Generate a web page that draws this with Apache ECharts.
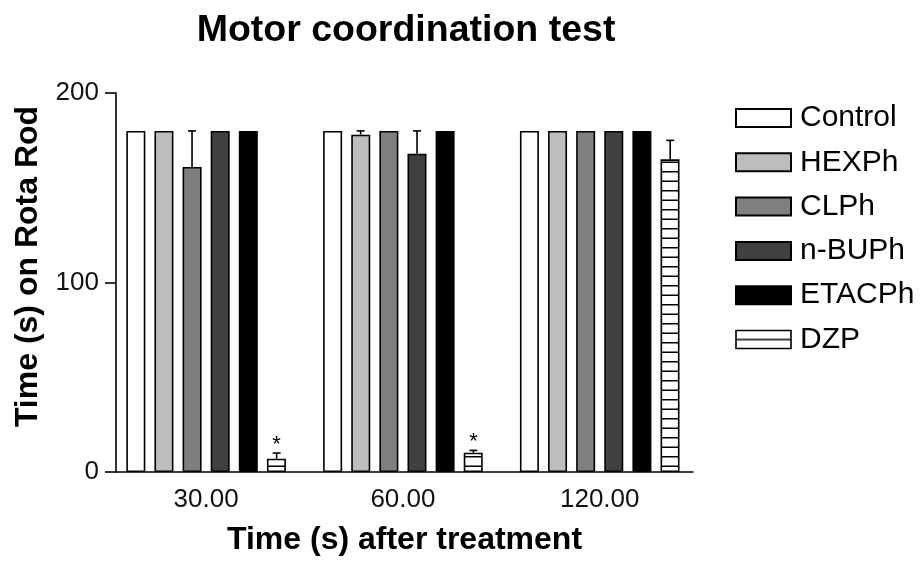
<!DOCTYPE html>
<html>
<head>
<meta charset="utf-8">
<script src="https://cdn.jsdelivr.net/npm/echarts@6/dist/echarts.min.js"></script>
<style>html,body{margin:0;padding:0;background:#fff}#c{width:920px;height:561px}</style>
</head>
<body>
<div id="c"></div>
<script>
// ---- data ----
const categories = ['30.00', '60.00', '120.00'];
const xPos = [0, 1, 2];
const seriesNames = ['Control', 'HEXPh', 'CLPh', 'n-BUPh', 'ETACPh', 'DZP'];
const control = [180, 180, 180];
const controlErr = [0, 0, 0];
const hexph = [180, 178, 180];
const hexphErr = [0, 2, 0];
const clph = [161, 180, 180];
const clphErr = [19, 0, 0];
const nbuph = [180, 168, 180];
const nbuphErr = [0, 12, 0];
const etacph = [180, 180, 180];
const etacphErr = [0, 0, 0];
const dzp = [7, 10.2, 165];
const dzpErr = [3, 1.2, 10];
const dzpStar = [1, 1, 0];
const yTicks = { min: 0, max: 200, interval: 100 };

// ---- style ----
const FONT = 'Liberation Sans';
const fills = ['#ffffff', '#bdbdbd', '#7f7f7f', '#404040', '#000000', null];
const BAR_W = 19;
const PITCH = 28.2;

function stripeCanvas(h, rows) {
  const c = document.createElement('canvas');
  c.width = 8; c.height = h;
  const g = c.getContext('2d');
  g.fillStyle = '#fff'; g.fillRect(0, 0, 8, h);
  g.fillStyle = '#000';
  rows.forEach(r => g.fillRect(0, r, 8, 1.5));
  return c;
}
const barStripe = { image: stripeCanvas(19, [0, 9.5]), repeat: 'repeat' };
const legendStripe = { image: stripeCanvas(20, [8.3]), repeat: 'repeat' };

const values = [control, hexph, clph, nbuph, etacph, dzp];
const errs = [controlErr, hexphErr, clphErr, nbuphErr, etacphErr, dzpErr];
const stars = [null, null, null, null, null, dzpStar];

const series = seriesNames.map((name, k) => ({
  name, type: 'bar', barWidth: BAR_W, barGap: '48%',
  data: values[k].map((v, i) => [xPos[i], v]),
  itemStyle: {
    color: fills[k] || barStripe,
    borderColor: '#000', borderWidth: 1.6
  },
  emphasis: { disabled: true }
}));

const errData = [];
values.forEach((arr, k) => arr.forEach((v, i) => {
  errData.push([xPos[i], v, errs[k][i], k, stars[k] ? stars[k][i] : 0]);
}));

series.push({
  type: 'custom', name: 'err', z: 5, silent: true,
  encode: { x: 0, y: 1 },
  data: errData,
  renderItem(params, api) {
    const x = api.value(0), v = api.value(1), e = api.value(2), k = api.value(3), st = api.value(4);
    const base = api.coord([x, v]);
    const top = api.coord([x, v + e]);
    const cx = base[0] + (k - 2.5) * PITCH;
    const ch = [];
    if (e > 0) {
      ch.push({ type: 'line', shape: { x1: cx, y1: base[1], x2: cx, y2: top[1] }, style: { stroke: '#000', lineWidth: 1.6 } });
      ch.push({ type: 'line', shape: { x1: cx - 4, y1: top[1], x2: cx + 4, y2: top[1] }, style: { stroke: '#000', lineWidth: 1.6 } });
    }
    if (st) {
      ch.push({ type: 'text', style: { x: cx, y: top[1] - 8, text: '*', fill: '#000', font: '22px "Liberation Sans"', align: 'center', verticalAlign: 'middle' } });
    }
    return { type: 'group', children: ch };
  }
});

const legendData = seriesNames.map((name, k) => fills[k]
  ? { name, icon: 'rect' }
  : { name, icon: 'rect', itemStyle: { color: legendStripe, borderColor: '#000', borderWidth: 1.6 } });

const chart = echarts.init(document.getElementById('c'), null, { renderer: 'canvas' });
chart.setOption({
  animation: false,
  backgroundColor: '#fff',
  title: {
    text: 'Motor coordination test', left: 401, top: 7, textAlign: 'center',
    textStyle: { fontFamily: FONT, fontWeight: 'bold', fontSize: 37.5, color: '#000' }
  },
  legend: {
    orient: 'vertical', left: 730, top: 98, itemWidth: 55, itemHeight: 18, itemGap: 14.3,
    data: legendData,
    textStyle: { fontFamily: FONT, fontSize: 30, color: '#000', lineHeight: 30, padding: [0, 0, 0, 4] },
    selectedMode: false
  },
  grid: { left: 116, right: 227, top: 93, bottom: 83, containLabel: false },
  xAxis: {
    type: 'value', min: -0.458, max: 2.474,
    axisLine: { show: true, onZero: false, lineStyle: { color: '#000', width: 1.6 } },
    axisTick: { show: false },
    splitLine: { show: false },
    axisLabel: {
      customValues: xPos, formatter: v => categories[xPos.indexOf(v)],
      fontFamily: FONT, fontSize: 26, color: '#111', margin: 15
    },
    name: 'Time (s) after treatment', nameLocation: 'middle', nameGap: 52,
    nameTextStyle: { fontFamily: FONT, fontWeight: 'bold', fontSize: 32, color: '#000' }
  },
  yAxis: {
    type: 'value', min: yTicks.min, max: yTicks.max, interval: yTicks.interval,
    axisLine: { show: true, onZero: false, lineStyle: { color: '#000', width: 1.6 } },
    axisTick: { show: true, length: 11, lineStyle: { color: '#000', width: 1.6 } },
    splitLine: { show: false },
    axisLabel: { fontFamily: FONT, fontSize: 26, color: '#111', margin: 17 },
    name: 'Time (s) on Rota Rod', nameLocation: 'middle', nameGap: 72,
    nameTextStyle: { fontFamily: FONT, fontWeight: 'bold', fontSize: 32, color: '#000', padding: [0, 0, 0, 32] }
  },
  series
});
</script>
</body>
</html>
